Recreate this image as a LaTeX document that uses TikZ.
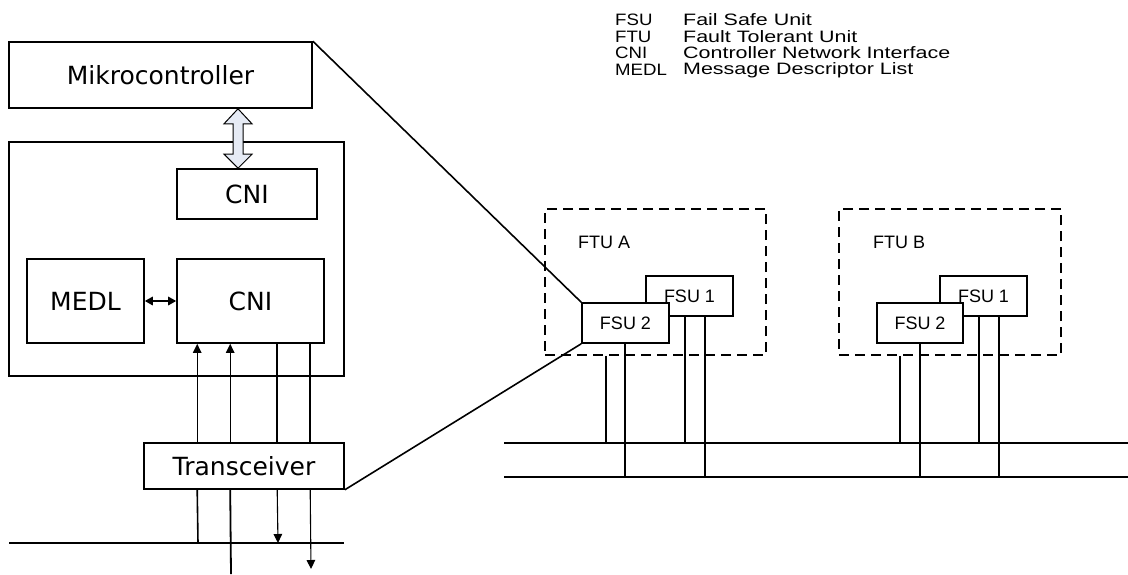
\documentclass[tikz,border=0pt]{standalone}
\usepackage{fontspec}
\setmainfont{Liberation Sans}
\newfontfamily\bigfont{DejaVu Sans}
\newfontfamily\legfont[FakeStretch=1.3]{Liberation Sans}
\newfontfamily\legabbr[FakeStretch=1.13]{Liberation Sans}
\usetikzlibrary{arrows.meta,calc}
\definecolor{hollowfill}{HTML}{E6EBF5}
\tikzset{
  x=1pt,y=-1pt,
  ln/.style={line width=1.6pt},
  box/.style={draw,ln,rectangle,inner sep=0pt,fill=white},
  bigbox/.style={box,font=\bigfont\fontsize{25}{29}\selectfont},
  smallbox/.style={box,font=\fontsize{18}{21}\selectfont},
  ftubox/.style={draw,dash pattern=on 10pt off 6pt,ln,rectangle,inner sep=0pt},
  lbl/.style={anchor=west,inner sep=0pt,font=\fontsize{18}{21}\selectfont},
  leg/.style={anchor=west,inner sep=0pt,font=\legfont\fontsize{16.5}{19}\selectfont},
  legab/.style={anchor=west,inner sep=0pt,font=\legabbr\fontsize{16.5}{19}\selectfont},
  arr/.style={-{Triangle[length=9pt,width=8.5pt]}},
  darr/.style={{Triangle[length=8pt,width=8.5pt]}-{Triangle[length=8pt,width=8.5pt]}},
  thinl/.style={line width=1.1pt},
}
\begin{document}
\begin{tikzpicture}
\useasboundingbox (0,0) rectangle (1128,574);
% left block
\node[box,minimum width=335pt,minimum height=234pt,fill=none] (outer) at (176.5,259) {};
\node[bigbox,minimum width=303pt,minimum height=66pt] (mikro) at (160.5,75) {Mikrocontroller};
\node[bigbox,minimum width=140pt,minimum height=50pt] (cniA) at (247,194) {CNI};
\node[bigbox,minimum width=117pt,minimum height=84pt] (medl) at (85.5,301) {MEDL};
\node[bigbox,minimum width=147pt,minimum height=84pt] (cniB) at (250.5,301) {CNI};
\node[bigbox,minimum width=200pt,minimum height=46pt] (trans) at (244,466) {Transceiver};
% hollow double arrow
\coordinate (hA) at (mikro.south -| 238,0);
\coordinate (hB) at (cniA.north -| 238,0);
\draw[line width=1pt,fill=hollowfill]
  (hA) -- ++(14,15) -- ++(-9,0) |- ($(hB)+(5,-14)$) -- ++(9,0) -- (hB)
  -- ++(-14,-14) -- ++(9,0) |- ($(hA)+(-5,15)$) -- ++(-9,0) -- cycle;
% MEDL <-> CNI
\draw[darr,ln] (medl.east) -- (cniB.west);
% CNI <-> transceiver
\draw[arr,thinl] ($(trans.north west)+(54,0)$) -- ($(cniB.south west)+(21,0)$);
\draw[arr,line width=0.9pt] ($(trans.north west)+(87,0)$) -- ($(cniB.south west)+(54,0)$);
\draw[ln] ($(cniB.south west)+(101,0)$) -- ($(trans.north west)+(134,0)$);
\draw[ln] ($(cniB.south west)+(134,0)$) -- ($(trans.north west)+(167,0)$);
% left bus
\coordinate (lbL) at (9,543);
\coordinate (lbR) at (344,543);
\draw[ln] (lbL) -- (lbR);
\coordinate (b198) at (198,543);
\coordinate (b231) at (231,574);
\coordinate (b278) at (278,543);
\coordinate (b311) at (311,569);
\draw[ln] ($(trans.south west)+(54,0)$) -- (b198);
\draw[line width=1.8pt] ($(trans.south west)+(87,0)$) -- (b231);
\draw[arr,thinl] ($(trans.south west)+(134,0)$) -- (b278);
\draw[arr,thinl] ($(trans.south west)+(167,0)$) -- (b311);
% FTU A
\node[ftubox,minimum width=221pt,minimum height=146pt] (ftua) at (655.5,282) {};
\node[lbl] (ftual) at (578,242) {FTU A};
\node[smallbox,minimum width=87pt,minimum height=40pt] (fsu1a) at (689.5,296) {FSU 1};
\node[smallbox,minimum width=87pt,minimum height=40pt] (fsu2a) at (625.5,323) {FSU 2};
% FTU B
\node[ftubox,minimum width=222pt,minimum height=146pt] (ftub) at (950,282) {};
\node[lbl] (ftubl) at (873,242) {FTU B};
\node[smallbox,minimum width=87pt,minimum height=40pt] (fsu1b) at (983.5,296) {FSU 1};
\node[smallbox,minimum width=86pt,minimum height=40pt] (fsu2b) at (920,323) {FSU 2};
% zoom lines
\draw[ln] (mikro.north east) -- (fsu2a.north west);
\draw[ln] (trans.south east) -- (fsu2a.south west);
% right buses
\coordinate (bus1L) at (504,443);
\coordinate (bus1R) at (1128,443);
\coordinate (bus2L) at (504,477);
\coordinate (bus2R) at (1128,477);
\draw[ln] (bus1L) -- (bus1R);
\draw[ln] (bus2L) -- (bus2R);
% drops A
\draw[ln] (ftua.south -| 606,0) -- (bus1L -| 606,0);
\draw[ln] ($(fsu2a.south west)+(44,0)$) -- (bus2L -| {$(fsu2a.south west)+(44,0)$});
\draw[ln] ($(fsu1a.south west)+(40,0)$) -- (bus1L -| {$(fsu1a.south west)+(40,0)$});
\draw[ln] ($(fsu1a.south west)+(60,0)$) -- (bus2L -| {$(fsu1a.south west)+(60,0)$});
% drops B
\draw[ln] (ftub.south -| 900,0) -- (bus1L -| 900,0);
\draw[ln] (fsu2b.south) -- (bus2L -| fsu2b.south);
\draw[ln] ($(fsu1b.south west)+(40,0)$) -- (bus1L -| {$(fsu1b.south west)+(40,0)$});
\draw[ln] ($(fsu1b.south west)+(60,0)$) -- (bus2L -| {$(fsu1b.south west)+(60,0)$});
% legend
\node[legab] (l1a) at (615,20) {FSU};
\node[leg] (l1b) at (683,20) {Fail Safe Unit};
\node[legab] (l2a) at (615,37) {FTU};
\node[leg] (l2b) at (683,37) {Fault Tolerant Unit};
\node[legab] (l3a) at (615,53) {CNI};
\node[leg] (l3b) at (683,53) {Controller Network Interface};
\node[legab] (l4a) at (615,70) {MEDL};
\node[leg] (l4b) at (683,70) {Message Descriptor List};
\end{tikzpicture}
\end{document}
